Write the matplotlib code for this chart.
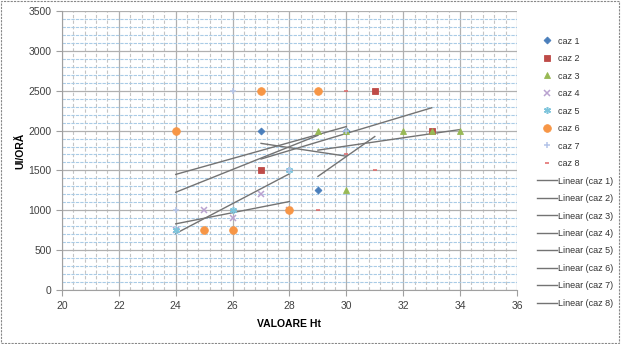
import numpy as np
import matplotlib.pyplot as plt
from matplotlib.patches import Rectangle
from matplotlib.ticker import MultipleLocator

# date masurate pentru fiecare caz
caz1_x = [27, 29, 30]
caz1_y = [2000, 1250, 2000]
caz2_x = [27, 31, 33]
caz2_y = [1500, 2500, 2000]
caz3_x = [29, 30, 30, 32, 33, 34]
caz3_y = [2000, 2000, 1250, 2000, 2000, 2000]
caz4_x = [24, 25, 26, 27, 28]
caz4_y = [750, 1000, 900, 1200, 1000]
caz5_x = [24, 26, 28]
caz5_y = [750, 1000, 1500]
caz6_x = [24, 25, 26, 27, 28, 29]
caz6_y = [2000, 750, 750, 2500, 1000, 2500]
caz7_x = [24, 26, 28, 30]
caz7_y = [1000, 2500, 1500, 2000]
caz8_x = [29, 30, 30, 31]
caz8_y = [1000, 2500, 1700, 1500]

serii = [(caz1_x, caz1_y), (caz2_x, caz2_y), (caz3_x, caz3_y), (caz4_x, caz4_y),
         (caz5_x, caz5_y), (caz6_x, caz6_y), (caz7_x, caz7_y), (caz8_x, caz8_y)]
etichete = ['caz 1', 'caz 2', 'caz 3', 'caz 4', 'caz 5', 'caz 6', 'caz 7', 'caz 8']
markere = ['D', 's', '^', 'x', (6, 2, 0), 'o', '+', '_']
marimi = [3.5, 5, 5, 5, 5, 5.5, 4, 3.5]
culori = ['#4a7ebb', '#be4b48', '#98b954', '#b9a2d0', '#7fc5dc', '#f79646', '#b4c4e8', '#e06666']

plt.rcParams['font.family'] = 'Liberation Sans'

fig = plt.figure(figsize=(6.21, 3.44), dpi=100)

# fundal punctat
bg = fig.add_axes([0, 0, 1, 1], zorder=-1)
bg.set_xlim(0, 621)
bg.set_ylim(344, 0)
bg.axis('off')
gx, gy = np.meshgrid(np.arange(3, 621, 6), np.arange(3, 344, 6))
bg.scatter(gx.ravel(), gy.ravel(), s=0.15, color='#b8b8b8', marker='s', linewidths=0)
fig.patches.append(Rectangle((0.002, 0.003), 0.995, 0.993, transform=fig.transFigure,
                             fill=False, edgecolor='#888888', linestyle=(0, (2, 1)), linewidth=0.8))

ax = fig.add_axes([0.0998, 0.157, 0.7327, 0.811])
ax.set_facecolor('none')

# puncte
for (x, y), lab, m, ms, c in zip(serii, etichete, markere, marimi, culori):
    subtire = m in ('x', '+', '_') or m == (6, 2, 0)
    ax.plot(x, y, linestyle='none', marker=m, markersize=ms, color=c,
            markeredgecolor=c, markeredgewidth=1.1 if subtire else 0.6,
            label=lab, zorder=4)

# linii de tendinta
for (x, y), lab in zip(serii, etichete):
    a, b = np.polyfit(x, y, 1)
    xs = np.array([min(x), max(x)])
    ax.plot(xs, a * xs + b, color='#737373', linewidth=1.0, label='Linear (' + lab + ')', zorder=3)

ax.set_xlim(20, 36)
ax.set_ylim(0, 3500)
ax.xaxis.set_major_locator(MultipleLocator(2))
ax.xaxis.set_minor_locator(MultipleLocator(0.4))
ax.yaxis.set_major_locator(MultipleLocator(500))
ax.yaxis.set_minor_locator(MultipleLocator(100))

ax.grid(which='major', color='#b0b0b0', linewidth=0.9)
ax.grid(which='minor', axis='x', color='#c4c4c4', linestyle=(0, (3, 2)), linewidth=0.8)
ax.grid(which='minor', axis='y', color='#a9cbe6', linestyle=(0, (3, 1)), linewidth=0.8)
ax.set_axisbelow(True)

for s in ['top', 'right']:
    ax.spines[s].set_visible(False)
ax.spines['left'].set_color('#a0a0a0')
ax.spines['bottom'].set_color('#a0a0a0')
ax.tick_params(which='major', length=4, color='#a0a0a0', labelsize=7.5, labelcolor='#404040')
ax.tick_params(which='minor', length=0)
ax.tick_params(axis='x', pad=4)

ax.set_xlabel('VALOARE Ht', fontsize=7.5, fontweight='bold', labelpad=6)
ax.set_ylabel('UI/ORĂ', fontsize=7.5, fontweight='bold', labelpad=2)

ax.legend(loc='upper left', bbox_to_anchor=(1.036, 0.921), frameon=False, fontsize=6.5,
          labelspacing=0.94, handlelength=2.2, handletextpad=0.15, borderaxespad=0,
          labelcolor='#333333')

fig.savefig('out.png', dpi=100)
